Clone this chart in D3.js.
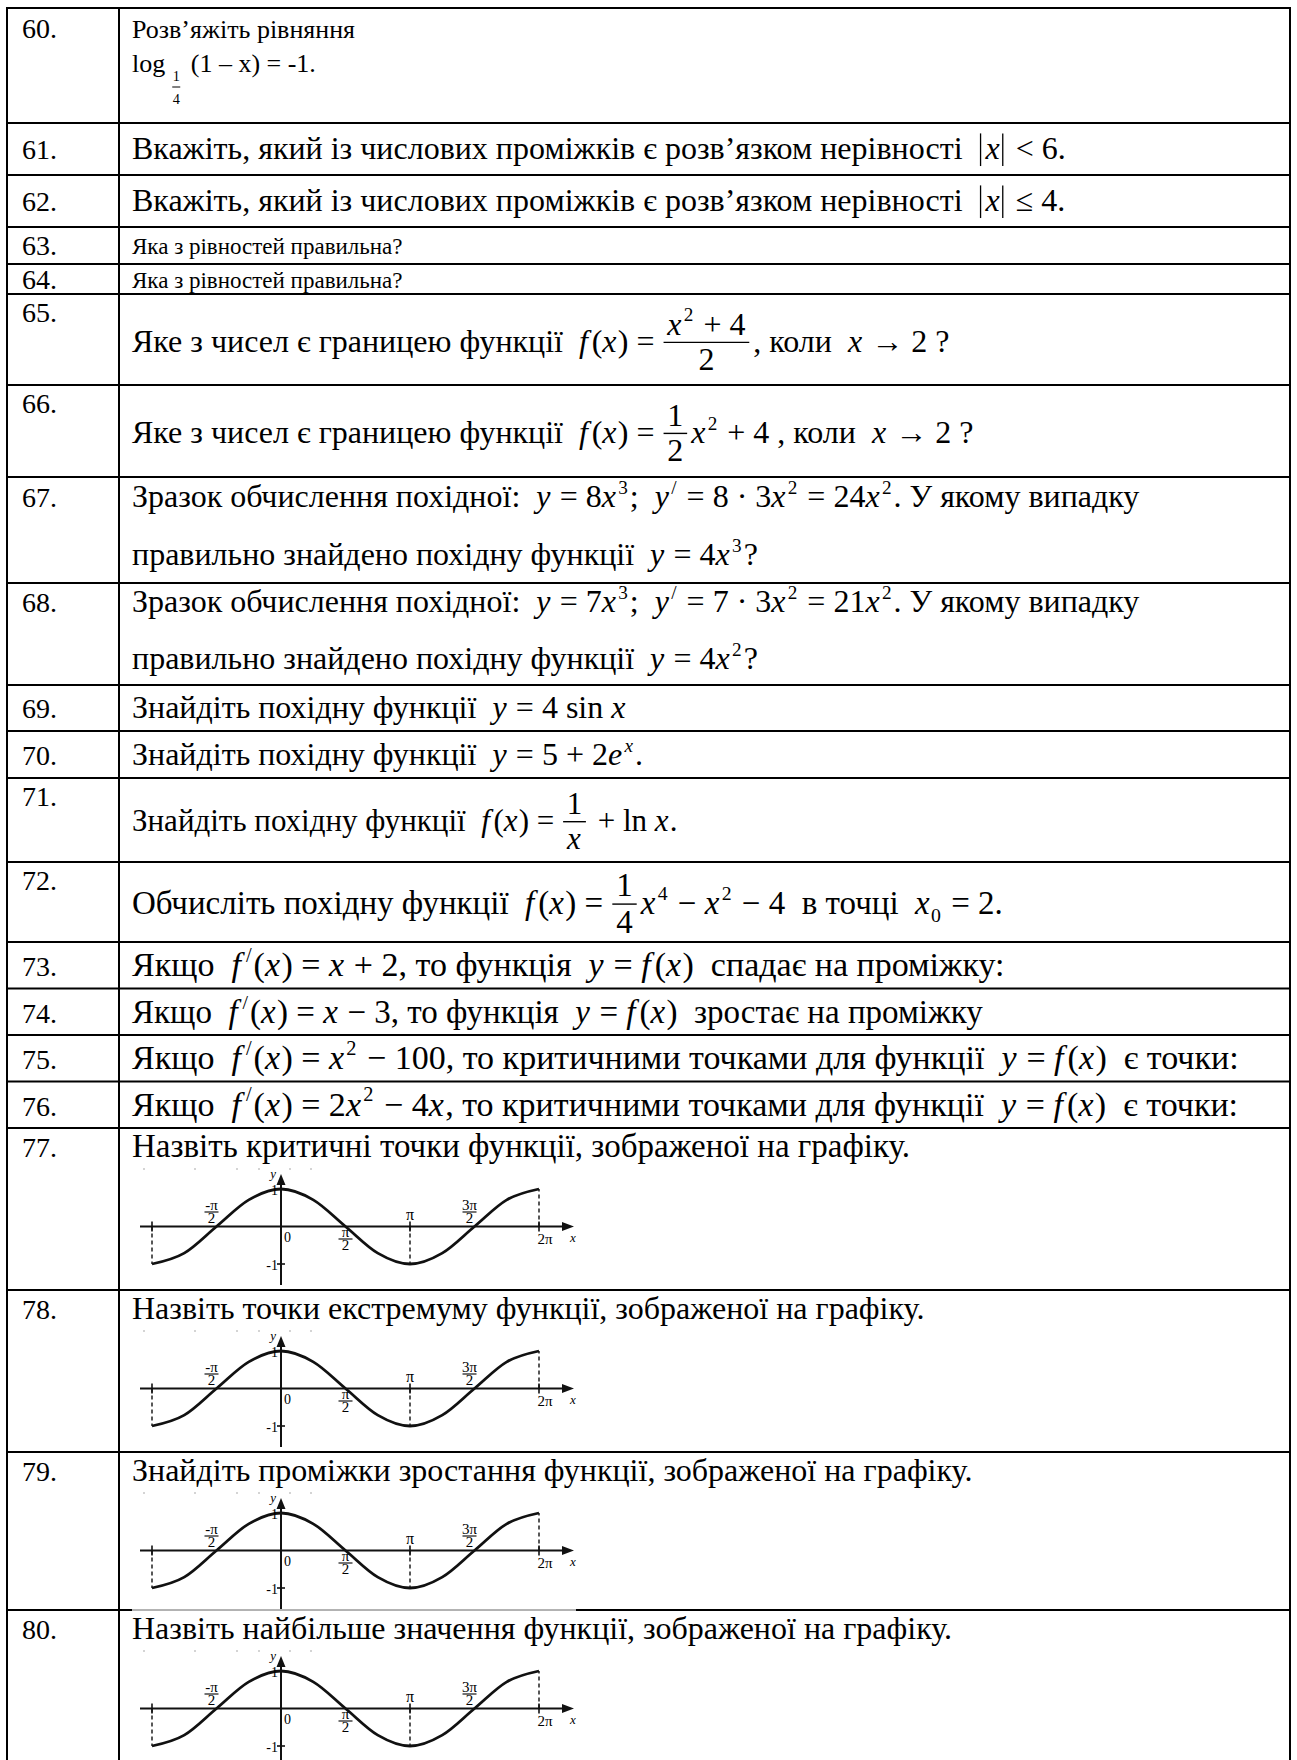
<!DOCTYPE html>
<html lang="uk">
<head>
<meta charset="UTF-8">
<title>Завдання 60–80</title>
<script src="https://d3js.org/d3.v7.min.js"></script>
<style>
  body { margin: 0; background: #fff; }
  svg text { font-family: "Liberation Serif", "Times New Roman", Tinos, serif; fill: #000; white-space: pre; }
</style>
</head>
<body>
<div id="sheet"></div>
<script>
// ---- content (markup: {x} italic, ^c superscript, _c subscript, [a|b] fraction, ⟨x⟩ |x|, ⌊a|b⌋ small base fraction)
const taskNumbers = ["60.", "61.", "62.", "63.", "64.", "65.", "66.", "67.", "68.", "69.", "70.",
                     "71.", "72.", "73.", "74.", "75.", "76.", "77.", "78.", "79.", "80."];

const taskTexts = [
  ["Розв’яжіть рівняння", "log⌊1|4⌋ (1 – x) = -1."],
  ["Вкажіть, який із числових проміжків є розв’язком нерівності  ⟨x⟩ < 6."],
  ["Вкажіть, який із числових проміжків є розв’язком нерівності  ⟨x⟩ ≤ 4."],
  ["Яка з рівностей правильна?"],
  ["Яка з рівностей правильна?"],
  ["Яке з чисел є границею функції  {f}({x}) = [{x}^2 + 4|2], коли  {x} → 2 ?"],
  ["Яке з чисел є границею функції  {f}({x}) = [1|2]{x}^2 + 4 , коли  {x} → 2 ?"],
  ["Зразок обчислення похідної:  {y} = 8{x}^3;  {y}^/ = 8 · 3{x}^2 = 24{x}^2. У якому випадку",
   "правильно знайдено похідну функції  {y} = 4{x}^3?"],
  ["Зразок обчислення похідної:  {y} = 7{x}^3;  {y}^/ = 7 · 3{x}^2 = 21{x}^2. У якому випадку",
   "правильно знайдено похідну функції  {y} = 4{x}^2?"],
  ["Знайдіть похідну функції  {y} = 4 sin {x}"],
  ["Знайдіть похідну функції  {y} = 5 + 2{e}^x."],
  ["Знайдіть похідну функції  {f}({x}) = [1|{x}] + ln {x}."],
  ["Обчисліть похідну функції  {f}({x}) = [1|4]{x}^4 − {x}^2 − 4  в точці  {x}_0 = 2."],
  ["Якщо  {f}^/({x}) = {x} + 2, то функція  {y} = {f}({x})  спадає на проміжку:"],
  ["Якщо  {f}^/({x}) = {x} − 3, то функція  {y} = {f}({x})  зростає на проміжку"],
  ["Якщо  {f}^/({x}) = {x}^2 − 100, то критичними точками для функції  {y} = {f}({x})  є точки:"],
  ["Якщо  {f}^/({x}) = 2{x}^2 − 4{x}, то критичними точками для функції  {y} = {f}({x})  є точки:"],
  ["Назвіть критичні точки функції, зображеної на графіку."],
  ["Назвіть точки екстремуму функції, зображеної на графіку."],
  ["Знайдіть проміжки зростання функції, зображеної на графіку."],
  ["Назвіть найбільше значення функції, зображеної на графіку."]
];

const graphTasks = ["77.", "78.", "79.", "80."];

// curve: x in units of π, y value
const curveX = [-1, -0.75, -0.5, -0.25, 0, 0.25, 0.5, 0.75, 1, 1.25, 1.5, 1.75, 2];
const curveY = [-1, -0.71, 0, 0.71, 1, 0.71, 0, -0.71, -1, -0.71, 0, 0.71, 1];
const xTickFracs = [{v: -0.5, num: "-π", den: "2", side: "up"},
                    {v: 0.5, num: "π", den: "2", side: "down"},
                    {v: 1.5, num: "3π", den: "2", side: "up"}];
const dashedX = [-1, 1, 2];

// ---- layout
const W = 1297, H = 1760, NUM_FS = 28;
const tableLeft = 7, tableRight = 1290, colSplit = 119, textX = 132, numX = 22, tableTop = 8;
const rowHeights = [115, 52, 52, 37, 30, 91, 92, 106, 102, 46, 47, 84, 80, 46.5, 46.5, 46.5, 46.5, 162, 162, 158, 158];
const rowFont = [26, 32, 32, 23, 23, 32, 32, 32, 32, 32, 32, 31, 33, 34, 33, 34, 34, 33, 32, 32, 32];
const lineBase = [[30, 64], [36], [36], [27], [24], [58], [58], [30, 88], [29, 86], [33], [34], [53], [52],
                  [34], [34], [34], [34], [29], [29], [29], [29]];
const numBase = [30, 36, 36, 28, 25, 28, 28, 30, 29, 33, 34, 28, 28, 34, 34, 34, 34, 29, 29, 29, 29];
const speckX = [143, 194, 236, 258, 289, 310];

const tops = [tableTop, ...Array.from(d3.cumsum(rowHeights), v => tableTop + v)];

const svg = d3.select("#sheet").append("svg").attr("width", W).attr("height", H);

function parse(s) {
  const out = [];
  let buf = "", i = 0;
  const flush = () => { if (buf) { out.push({k: "t", s: buf}); buf = ""; } };
  while (i < s.length) {
    const c = s[i];
    if (c === "{") {
      flush(); const j = s.indexOf("}", i);
      out.push({k: "i", s: s.slice(i + 1, j)}); i = j + 1;
    } else if (c === "^") {
      flush(); const ch = s[i + 1];
      out.push({k: "sup", s: ch, it: /[a-z]/.test(ch)}); i += 2;
    } else if (c === "_") {
      flush(); out.push({k: "sub", s: s[i + 1]}); i += 2;
    } else if (c === "[") {
      flush(); const j = s.indexOf("]", i);
      const [a, b] = s.slice(i + 1, j).split("|");
      out.push({k: "frac", num: parse(a), den: parse(b)}); i = j + 1;
    } else if (c === "⌊") {
      flush(); const j = s.indexOf("⌋", i);
      const [a, b] = s.slice(i + 1, j).split("|");
      out.push({k: "low", num: a, den: b}); i = j + 1;
    } else if (c === "⟨") {
      flush(); const j = s.indexOf("⟩", i);
      out.push({k: "abs", s: s.slice(i + 1, j)}); i = j + 1;
    } else { buf += c; i++; }
  }
  flush();
  return out;
}

function txt(g, s, x, y, size, italic) {
  const t = g.append("text")
    .attr("x", x).attr("y", y)
    .attr("xml:space", "preserve")
    .style("font-size", size + "px")
    .style("font-style", italic ? "italic" : "normal")
    .text(s);
  return t.node().getComputedTextLength();
}

function drawTokens(g, tokens, x, base, fs) {
  tokens.forEach(tok => {
    if (tok.k === "t") {
      x += txt(g, tok.s, x, base, fs, false);
    } else if (tok.k === "i") {
      x += txt(g, tok.s, x, base, fs, true) + (tok.s === "f" ? fs * 0.12 : fs * 0.04);
    } else if (tok.k === "sup") {
      x += txt(g, tok.s, x + 1, base - fs * 0.42, fs * 0.6, tok.it) + 3;
    } else if (tok.k === "sub") {
      x += txt(g, tok.s, x, base + fs * 0.24, fs * 0.6, false) + 2;
    } else if (tok.k === "frac") {
      const gn = g.append("g"), gd = g.append("g");
      const wn = drawTokens(gn, tok.num, 0, 0, fs);
      const wd = drawTokens(gd, tok.den, 0, 0, fs);
      const w = Math.max(wn, wd) + fs * 0.3;
      const bar = base - fs * 0.3;
      gn.attr("transform", `translate(${x + (w - wn) / 2},${bar - fs * 0.24})`);
      gd.attr("transform", `translate(${x + (w - wd) / 2},${bar + fs * 0.87})`);
      g.append("line").attr("x1", x + 1).attr("x2", x + w - 1)
        .attr("y1", bar).attr("y2", bar).attr("stroke", "#000").attr("stroke-width", 1.4);
      x += w + 3;
    } else if (tok.k === "low") {
      const sf = fs * 0.55;
      x += 7;
      g.append("text").attr("x", x + 4).attr("y", base + 9).attr("text-anchor", "middle")
        .style("font-size", sf + "px").text(tok.num);
      g.append("line").attr("x1", x).attr("x2", x + 8).attr("y1", base + 15).attr("y2", base + 15)
        .attr("stroke", "#000").attr("stroke-width", 1);
      g.append("text").attr("x", x + 4).attr("y", base + 32).attr("text-anchor", "middle")
        .style("font-size", sf + "px").text(tok.den);
      x += 12;
    } else if (tok.k === "abs") {
      const bar = xx => g.append("line").attr("x1", xx).attr("x2", xx)
        .attr("y1", base - fs * 0.8).attr("y2", base + fs * 0.22)
        .attr("stroke", "#000").attr("stroke-width", 1.3);
      bar(x + 2); x += 7;
      x += txt(g, tok.s, x, base, fs, true) + 3;
      bar(x); x += 5;
    }
  });
  return x;
}

function smallFrac(g, cx, numBase, num, den) {
  const fs = 15;
  g.append("text").attr("x", cx).attr("y", numBase).attr("text-anchor", "middle").style("font-size", fs + "px").text(num);
  g.append("line").attr("x1", cx - 7).attr("x2", cx + 7).attr("y1", numBase + 2.5).attr("y2", numBase + 2.5)
    .attr("stroke", "#000").attr("stroke-width", 1.1);
  g.append("text").attr("x", cx).attr("y", numBase + 13).attr("text-anchor", "middle").style("font-size", fs + "px").text(den);
}

function drawGraph(g, top) {
  const x = d3.scaleLinear().domain([-1, 2]).range([152, 539]);
  const y = d3.scaleLinear().domain([-1, 1]).range([top + 136, top + 61]);
  const x0 = x(0), y0 = y(0);
  const ink = "#111";

  // faint specks under the caption (scan residue)
  speckX.forEach(sx => g.append("line").attr("x1", sx).attr("x2", sx + 2)
    .attr("y1", top + 41).attr("y2", top + 41).attr("stroke", "#aaa").attr("stroke-width", 1.2));

  // axes
  g.append("line").attr("x1", 140).attr("x2", 566).attr("y1", y0).attr("y2", y0)
    .attr("stroke", ink).attr("stroke-width", 2);
  g.append("path").attr("d", `M574,${y0} L562,${y0 - 4.5} L562,${y0 + 4.5} Z`).attr("fill", ink);
  g.append("line").attr("x1", x0).attr("x2", x0).attr("y1", top + 55).attr("y2", top + 157)
    .attr("stroke", ink).attr("stroke-width", 2);
  g.append("path").attr("d", `M${x0},${top + 46} L${x0 - 4.5},${top + 57} L${x0 + 4.5},${top + 57} Z`).attr("fill", ink);

  // ticks on axes
  dashedX.forEach(v => {
    g.append("line").attr("x1", x(v)).attr("x2", x(v)).attr("y1", y0 - 5).attr("y2", y0 + 5)
      .attr("stroke", ink).attr("stroke-width", 1.6);
  });
  [-1, 1].forEach(v => {
    g.append("line").attr("x1", x0 - 4).attr("x2", x0 + 4).attr("y1", y(v)).attr("y2", y(v))
      .attr("stroke", ink).attr("stroke-width", 1.6);
  });

  // dashed guides
  dashedX.forEach(v => {
    const end = v === 2 ? 1 : -1;
    g.append("line").attr("x1", x(v)).attr("x2", x(v)).attr("y1", y0).attr("y2", y(end))
      .attr("stroke", ink).attr("stroke-width", 1.4).attr("stroke-dasharray", "4,3");
  });

  // curve
  const line = d3.line().x(d => x(d[0])).y(d => y(d[1])).curve(d3.curveMonotoneX);
  g.append("path").datum(d3.zip(curveX, curveY)).attr("d", line)
    .attr("fill", "none").attr("stroke", ink).attr("stroke-width", 2.8);

  // labels
  xTickFracs.forEach(t => {
    const cx = x(t.v) - (t.side === "up" ? 5 : 0);
    smallFrac(g, cx, t.side === "up" ? y0 - 17 : y0 + 10, t.num, t.den);
  });
  const lab = (s, lx, ly, anchor, italic, fs) => g.append("text").attr("x", lx).attr("y", ly)
    .attr("text-anchor", anchor).style("font-size", (fs || 15) + "px")
    .style("font-style", italic ? "italic" : "normal").text(s);
  lab("π", x(1), y0 - 7, "middle", false, 16);
  lab("2π", x(2) + 6, y0 + 17, "middle", false, 15);
  lab("0", x0 + 3, y0 + 15, "start", false, 14);
  lab("x", 570, y0 + 15, "start", true, 13);
  lab("y", x0 - 5, top + 50, "end", true, 13);
  lab("1", x0 - 3, y(1) + 6, "end", false, 14);
  lab("-1", x0 - 3, y(-1) + 6, "end", false, 14);
}

// ---- rows
const body = svg.append("g");
taskNumbers.forEach((n, i) => {
  const top = tops[i];
  const g = body.append("g").attr("class", "row");
  g.append("text").attr("x", numX).attr("y", top + numBase[i]).style("font-size", NUM_FS + "px").text(n);
  taskTexts[i].forEach((ln, j) => drawTokens(g, parse(ln), textX, top + lineBase[i][j], rowFont[i]));
  if (graphTasks.includes(n)) drawGraph(g, top);
});

// ---- grid
const grid = svg.append("g").attr("stroke", "#000").attr("stroke-width", 2);
tops.slice(0, -1).forEach((t, i) => {
  if (taskNumbers[i] === "80.") {
    grid.append("line").attr("x1", tableLeft).attr("x2", 132).attr("y1", t).attr("y2", t);
    grid.append("line").attr("x1", 132).attr("x2", 576).attr("y1", t).attr("y2", t)
      .attr("stroke", "#666").attr("stroke-width", 1);
    grid.append("line").attr("x1", 576).attr("x2", tableRight).attr("y1", t).attr("y2", t);
  } else {
    grid.append("line").attr("x1", tableLeft).attr("x2", tableRight).attr("y1", t).attr("y2", t);
  }
});
[tableLeft, colSplit, tableRight].forEach(xv => {
  grid.append("line").attr("x1", xv).attr("x2", xv).attr("y1", tableTop - 1).attr("y2", H);
});
</script>
</body>
</html>
